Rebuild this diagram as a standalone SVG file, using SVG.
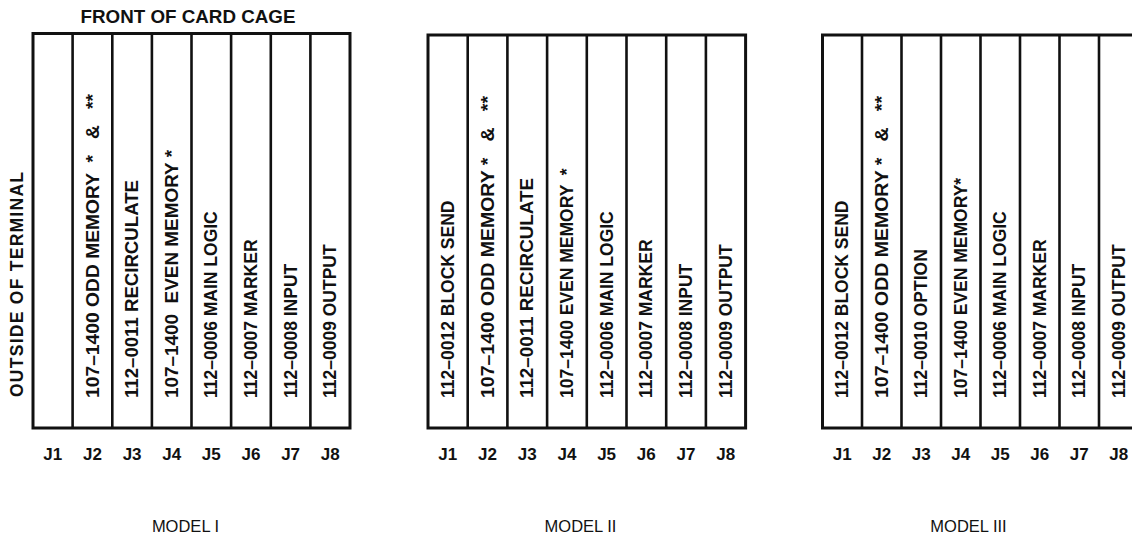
<svg xmlns="http://www.w3.org/2000/svg" width="1132" height="546" viewBox="0 0 1132 546">
<style>
.frame{fill:#fff;stroke:#111;stroke-width:3}
.div{stroke:#111;stroke-width:2.6}
.card{font-family:"Liberation Sans",Arial,sans-serif;font-weight:bold;font-size:17.5px;fill:#111}
.jl{font-family:"Liberation Sans",Arial,sans-serif;font-weight:bold;font-size:17px;fill:#111;text-anchor:middle}
.title{font-family:"Liberation Sans",Arial,sans-serif;font-weight:bold;font-size:18.8px;fill:#111;text-anchor:middle}
.model{font-family:"Liberation Sans",Arial,sans-serif;font-size:16.5px;fill:#111;text-anchor:middle}
</style>
<rect width="1132" height="546" fill="#fff"/>
<text class="title" x="188" y="22.5">FRONT OF CARD CAGE</text>
<text class="card" font-size="18" textLength="225" lengthAdjust="spacing" transform="translate(23,397) rotate(-90)">OUTSIDE OF TERMINAL</text>

<g id="model1">
<rect class="frame" x="33" y="33.5" width="317" height="394.5"/>
<g class="div">
<line x1="72.6" y1="33.5" x2="72.6" y2="428"/><line x1="112.3" y1="33.5" x2="112.3" y2="428"/><line x1="151.9" y1="33.5" x2="151.9" y2="428"/><line x1="191.5" y1="33.5" x2="191.5" y2="428"/><line x1="231.1" y1="33.5" x2="231.1" y2="428"/><line x1="270.8" y1="33.5" x2="270.8" y2="428"/><line x1="310.4" y1="33.5" x2="310.4" y2="428"/>
</g>
<g id="m1-j1"><text class="jl" x="52.8" y="460">J1</text></g>
<g id="m1-j2"><text class="card" textLength="304" lengthAdjust="spacingAndGlyphs" transform="translate(98.5,398) rotate(-90)" xml:space="preserve">107–1400 ODD MEMORY  *   &amp;   **</text><text class="jl" x="92.5" y="460">J2</text></g>
<g id="m1-j3"><text class="card" textLength="218" lengthAdjust="spacingAndGlyphs" transform="translate(138.1,398) rotate(-90)">112–0011 RECIRCULATE</text><text class="jl" x="132.1" y="460">J3</text></g>
<g id="m1-j4"><text class="card" textLength="248" lengthAdjust="spacingAndGlyphs" transform="translate(177.7,398) rotate(-90)" xml:space="preserve">107–1400  EVEN MEMORY *</text><text class="jl" x="171.7" y="460">J4</text></g>
<g id="m1-j5"><text class="card" transform="translate(217.3,398) rotate(-90)">112–0006 MAIN LOGIC</text><text class="jl" x="211.3" y="460">J5</text></g>
<g id="m1-j6"><text class="card" transform="translate(257,398) rotate(-90)">112–0007 MARKER</text><text class="jl" x="251" y="460">J6</text></g>
<g id="m1-j7"><text class="card" transform="translate(296.6,398) rotate(-90)">112–0008 INPUT</text><text class="jl" x="290.6" y="460">J7</text></g>
<g id="m1-j8"><text class="card" transform="translate(336.2,398) rotate(-90)">112–0009 OUTPUT</text><text class="jl" x="330.2" y="460">J8</text></g>
<text class="model" x="185.5" y="532">MODEL I</text>
</g>

<g id="model2">
<rect class="frame" x="428" y="35" width="317.6" height="393"/>
<g class="div">
<line x1="467.7" y1="35" x2="467.7" y2="428"/><line x1="507.4" y1="35" x2="507.4" y2="428"/><line x1="547.1" y1="35" x2="547.1" y2="428"/><line x1="586.8" y1="35" x2="586.8" y2="428"/><line x1="626.5" y1="35" x2="626.5" y2="428"/><line x1="666.2" y1="35" x2="666.2" y2="428"/><line x1="705.9" y1="35" x2="705.9" y2="428"/>
</g>
<g id="m2-j1"><text class="card" transform="translate(453.8,398) rotate(-90)">112–0012 BLOCK SEND</text><text class="jl" x="447.8" y="460">J1</text></g>
<g id="m2-j2"><text class="card" textLength="302" lengthAdjust="spacingAndGlyphs" transform="translate(493.5,398) rotate(-90)" xml:space="preserve">107–1400 ODD MEMORY *   &amp;   **</text><text class="jl" x="487.5" y="460">J2</text></g>
<g id="m2-j3"><text class="card" textLength="220" lengthAdjust="spacingAndGlyphs" transform="translate(533.2,398) rotate(-90)">112–0011 RECIRCULATE</text><text class="jl" x="527.2" y="460">J3</text></g>
<g id="m2-j4"><text class="card" transform="translate(572.9,398) rotate(-90)" xml:space="preserve">107–1400 EVEN MEMORY  *</text><text class="jl" x="566.9" y="460">J4</text></g>
<g id="m2-j5"><text class="card" transform="translate(612.6,398) rotate(-90)">112–0006 MAIN LOGIC</text><text class="jl" x="606.6" y="460">J5</text></g>
<g id="m2-j6"><text class="card" transform="translate(652.3,398) rotate(-90)">112–0007 MARKER</text><text class="jl" x="646.3" y="460">J6</text></g>
<g id="m2-j7"><text class="card" transform="translate(692,398) rotate(-90)">112–0008 INPUT</text><text class="jl" x="686" y="460">J7</text></g>
<g id="m2-j8"><text class="card" transform="translate(731.7,398) rotate(-90)">112–0009 OUTPUT</text><text class="jl" x="725.7" y="460">J8</text></g>
<text class="model" x="580.5" y="532">MODEL II</text>
</g>

<g id="model3">
<rect class="frame" x="822.5" y="35" width="316" height="393"/>
<g class="div">
<line x1="862" y1="35" x2="862" y2="428"/><line x1="901.5" y1="35" x2="901.5" y2="428"/><line x1="941" y1="35" x2="941" y2="428"/><line x1="980.5" y1="35" x2="980.5" y2="428"/><line x1="1020" y1="35" x2="1020" y2="428"/><line x1="1059.5" y1="35" x2="1059.5" y2="428"/><line x1="1099" y1="35" x2="1099" y2="428"/>
</g>
<g id="m3-j1"><text class="card" transform="translate(848.2,398) rotate(-90)">112–0012 BLOCK SEND</text><text class="jl" x="842.2" y="460">J1</text></g>
<g id="m3-j2"><text class="card" textLength="302" lengthAdjust="spacingAndGlyphs" transform="translate(887.7,398) rotate(-90)" xml:space="preserve">107–1400 ODD MEMORY *   &amp;   **</text><text class="jl" x="881.7" y="460">J2</text></g>
<g id="m3-j3"><text class="card" transform="translate(927.2,398) rotate(-90)">112–0010 OPTION</text><text class="jl" x="921.2" y="460">J3</text></g>
<g id="m3-j4"><text class="card" transform="translate(966.7,398) rotate(-90)">107–1400 EVEN MEMORY*</text><text class="jl" x="960.7" y="460">J4</text></g>
<g id="m3-j5"><text class="card" transform="translate(1006.2,398) rotate(-90)">112–0006 MAIN LOGIC</text><text class="jl" x="1000.2" y="460">J5</text></g>
<g id="m3-j6"><text class="card" transform="translate(1045.7,398) rotate(-90)">112–0007 MARKER</text><text class="jl" x="1039.7" y="460">J6</text></g>
<g id="m3-j7"><text class="card" transform="translate(1085.2,398) rotate(-90)">112–0008 INPUT</text><text class="jl" x="1079.2" y="460">J7</text></g>
<g id="m3-j8"><text class="card" transform="translate(1124.7,398) rotate(-90)">112–0009 OUTPUT</text><text class="jl" x="1118.7" y="460">J8</text></g>
<text class="model" x="968.5" y="532">MODEL III</text>
</g>
</svg>
